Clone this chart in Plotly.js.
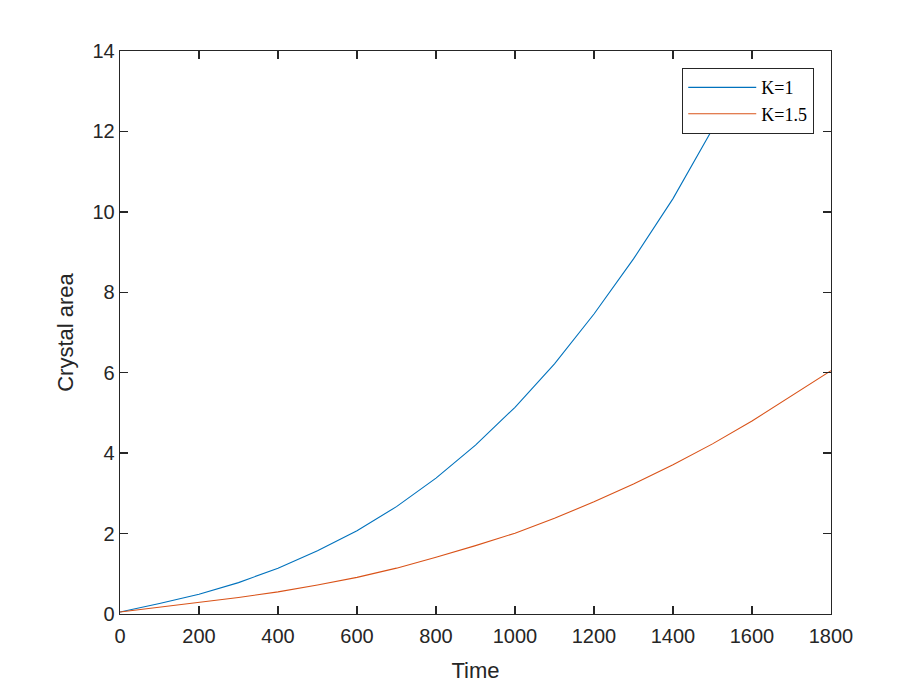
<!DOCTYPE html>
<html>
<head>
<meta charset="utf-8">
<script src="https://cdn.plot.ly/plotly-3.0.1.min.js"></script>
<style>html,body{margin:0;padding:0;background:#fff;}#chart{width:919px;height:690px;}</style>
</head>
<body>
<div id="chart"></div>
<script>
var timeK1 = [0, 100, 200, 300, 400, 500, 600, 700, 800, 900, 1000, 1100, 1200, 1300, 1400, 1500];
var areaK1 = [0.05, 0.26, 0.49, 0.78, 1.14, 1.57, 2.07, 2.67, 3.38, 4.20, 5.14, 6.22, 7.46, 8.83, 10.33, 12.06];
var timeK15 = [0, 100, 200, 300, 400, 500, 600, 700, 800, 900, 1000, 1100, 1200, 1300, 1400, 1500, 1600, 1700, 1800];
var areaK15 = [0.05, 0.17, 0.28, 0.41, 0.55, 0.72, 0.91, 1.14, 1.41, 1.70, 2.01, 2.38, 2.79, 3.23, 3.71, 4.23, 4.80, 5.42, 6.05];
var seriesNames = ['K=1', 'K=1.5'];
var xTicks = [0, 200, 400, 600, 800, 1000, 1200, 1400, 1600, 1800];
var yTicks = [0, 2, 4, 6, 8, 10, 12, 14];

var axisColor = '#262626';
var traces = [
  {x: timeK1, y: areaK1, name: seriesNames[0], mode: 'lines', line: {color: '#0072BD', width: 1.1}},
  {x: timeK15, y: areaK15, name: seriesNames[1], mode: 'lines', line: {color: '#D95319', width: 1.1}}
];
var tickFont = {family: 'Liberation Sans, Arial, sans-serif', size: 20, color: axisColor};
var layout = {
  width: 919, height: 690,
  margin: {l: 120, r: 88, t: 51, b: 76},
  paper_bgcolor: '#ffffff', plot_bgcolor: '#ffffff',
  showlegend: true,
  xaxis: {
    range: [0, 1800], tickvals: xTicks, ticktext: xTicks.map(String),
    ticks: 'inside', ticklen: 8, tickwidth: 1.3, tickcolor: axisColor,
    showline: true, linecolor: axisColor, linewidth: 1.3, mirror: 'ticks',
    showgrid: false, zeroline: false, tickfont: tickFont, ticklabelstandoff: 4,
    title: {text: 'Time', font: {family: 'Liberation Sans, Arial, sans-serif', size: 22, color: axisColor}, standoff: 16}
  },
  yaxis: {
    range: [0, 14], tickvals: yTicks, ticktext: yTicks.map(String),
    ticks: 'inside', ticklen: 8, tickwidth: 1.3, tickcolor: axisColor,
    showline: true, linecolor: axisColor, linewidth: 1.3, mirror: 'ticks',
    showgrid: false, zeroline: false, tickfont: tickFont,
    title: {text: 'Crystal area', font: {family: 'Liberation Sans, Arial, sans-serif', size: 22, color: axisColor}, standoff: 12}
  },
  legend: {
    x: 0.976, xanchor: 'right', y: 0.970, yanchor: 'top',
    bgcolor: '#ffffff', bordercolor: axisColor, borderwidth: 1.3,
    font: {family: 'Liberation Serif, Times New Roman, serif', size: 18, color: '#000000'},
    itemwidth: 68, tracegroupgap: 0
  }
};
Plotly.newPlot('chart', traces, layout, {staticPlot: true, displayModeBar: false});
</script>
</body>
</html>
